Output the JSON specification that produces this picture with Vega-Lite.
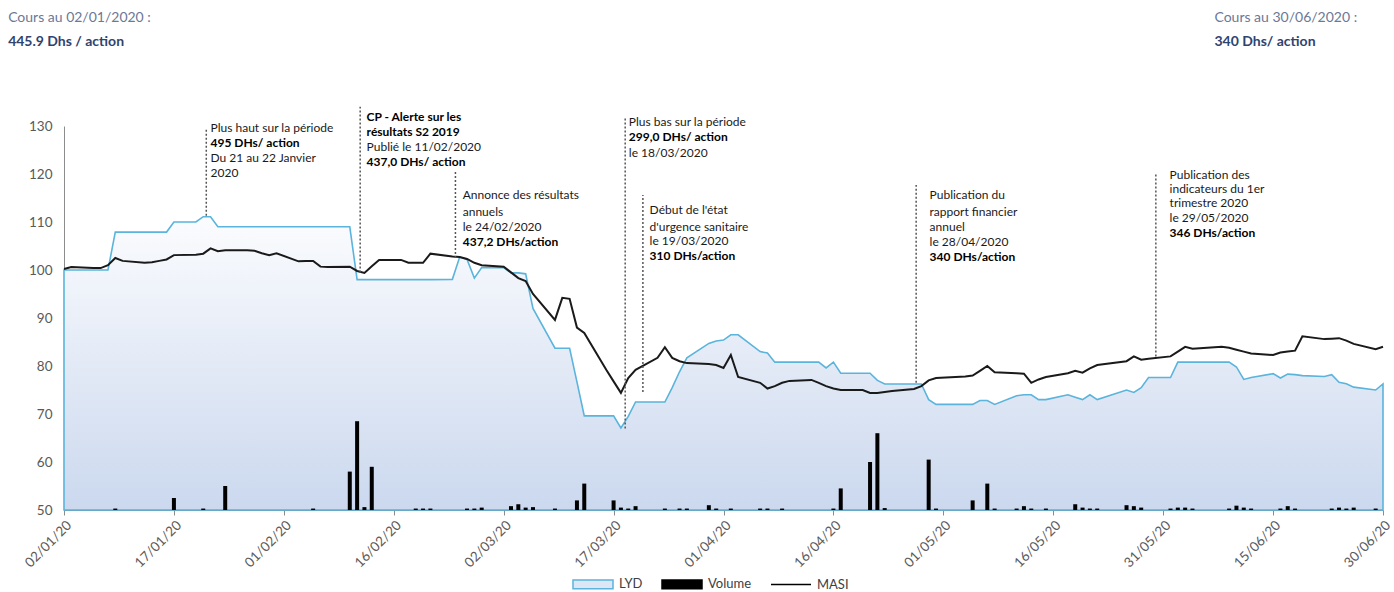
{
  "$schema": "https://vega.github.io/schema/vega-lite/v6.json",
  "autosize": "none",
  "width": 1319,
  "height": 384,
  "padding": {"left": 64, "top": 126, "right": 11, "bottom": 82},
  "background": "#ffffff",
  "config": {
    "view": {"stroke": null},
    "font": "Lato",
    "axis": {"labelFont": "Lato", "labelFontSize": 13.5, "labelColor": "#595959", "domainColor": "#8c8c8c", "tickColor": "#8c8c8c", "grid": false, "title": null},
    "legend": {"labelFont": "Lato", "labelFontSize": 13, "labelColor": "#404040"}
  },
  "datasets": {
    "lyd": [
      {"d":"2020-01-02","v":100},{"d":"2020-01-03","v":100},{"d":"2020-01-06","v":100},{"d":"2020-01-07","v":100},{"d":"2020-01-08","v":100},
      {"d":"2020-01-09","v":107.9},{"d":"2020-01-10","v":107.9},{"d":"2020-01-13","v":107.9},{"d":"2020-01-14","v":107.9},{"d":"2020-01-15","v":107.9},{"d":"2020-01-16","v":107.9},
      {"d":"2020-01-17","v":110},{"d":"2020-01-20","v":110},{"d":"2020-01-21","v":111.1},{"d":"2020-01-22","v":111.1},{"d":"2020-01-23","v":109},
      {"d":"2020-01-24","v":109},{"d":"2020-01-27","v":109},{"d":"2020-01-28","v":109},{"d":"2020-01-29","v":109},{"d":"2020-01-30","v":109},{"d":"2020-01-31","v":109},
      {"d":"2020-02-03","v":109},{"d":"2020-02-04","v":109},{"d":"2020-02-05","v":109},{"d":"2020-02-06","v":109},{"d":"2020-02-07","v":109},{"d":"2020-02-10","v":109},
      {"d":"2020-02-11","v":98},{"d":"2020-02-12","v":98},{"d":"2020-02-13","v":98},{"d":"2020-02-14","v":98},{"d":"2020-02-17","v":98},{"d":"2020-02-18","v":98},
      {"d":"2020-02-19","v":98},{"d":"2020-02-20","v":98},{"d":"2020-02-21","v":98},{"d":"2020-02-24","v":98.05},{"d":"2020-02-25","v":102.7},{"d":"2020-02-26","v":102.2},
      {"d":"2020-02-27","v":98.3},{"d":"2020-02-28","v":100.5},{"d":"2020-03-02","v":100.5},{"d":"2020-03-03","v":99.4},{"d":"2020-03-04","v":99.4},{"d":"2020-03-05","v":99.2},
      {"d":"2020-03-06","v":92},{"d":"2020-03-09","v":83.7},{"d":"2020-03-10","v":83.7},{"d":"2020-03-11","v":83.7},{"d":"2020-03-12","v":76.7},{"d":"2020-03-13","v":69.6},
      {"d":"2020-03-16","v":69.6},{"d":"2020-03-17","v":69.6},{"d":"2020-03-18","v":67.1},{"d":"2020-03-19","v":69.5},{"d":"2020-03-20","v":72.5},{"d":"2020-03-23","v":72.5},
      {"d":"2020-03-24","v":72.5},{"d":"2020-03-25","v":75.5},{"d":"2020-03-26","v":78.8},{"d":"2020-03-27","v":81.7},{"d":"2020-03-30","v":84.7},{"d":"2020-03-31","v":85.2},
      {"d":"2020-04-01","v":85.4},{"d":"2020-04-02","v":86.5},{"d":"2020-04-03","v":86.5},{"d":"2020-04-06","v":83},{"d":"2020-04-07","v":82.7},{"d":"2020-04-08","v":80.8},
      {"d":"2020-04-09","v":80.8},{"d":"2020-04-10","v":80.8},{"d":"2020-04-13","v":80.8},{"d":"2020-04-14","v":80.8},{"d":"2020-04-15","v":79.6},{"d":"2020-04-16","v":80.8},
      {"d":"2020-04-17","v":78.5},{"d":"2020-04-20","v":78.5},{"d":"2020-04-21","v":78.5},{"d":"2020-04-22","v":77},{"d":"2020-04-23","v":76.25},{"d":"2020-04-24","v":76.25},
      {"d":"2020-04-27","v":76.25},{"d":"2020-04-28","v":76.25},{"d":"2020-04-29","v":73},{"d":"2020-04-30","v":72},{"d":"2020-05-04","v":72},{"d":"2020-05-05","v":72},
      {"d":"2020-05-06","v":72.8},{"d":"2020-05-07","v":72.8},{"d":"2020-05-08","v":72},{"d":"2020-05-11","v":73.8},{"d":"2020-05-12","v":74},{"d":"2020-05-13","v":74},
      {"d":"2020-05-14","v":73},{"d":"2020-05-15","v":73},{"d":"2020-05-18","v":74},{"d":"2020-05-19","v":73.5},{"d":"2020-05-20","v":73},{"d":"2020-05-21","v":74},
      {"d":"2020-05-22","v":73},{"d":"2020-05-26","v":75},{"d":"2020-05-27","v":74.5},{"d":"2020-05-28","v":75.5},{"d":"2020-05-29","v":77.6},{"d":"2020-06-01","v":77.6},
      {"d":"2020-06-02","v":80.8},{"d":"2020-06-03","v":80.8},{"d":"2020-06-04","v":80.8},{"d":"2020-06-05","v":80.8},{"d":"2020-06-08","v":80.8},{"d":"2020-06-09","v":80.8},
      {"d":"2020-06-10","v":79.8},{"d":"2020-06-11","v":77.2},{"d":"2020-06-12","v":77.6},{"d":"2020-06-15","v":78.4},{"d":"2020-06-16","v":77.5},{"d":"2020-06-17","v":78.3},
      {"d":"2020-06-18","v":78.2},{"d":"2020-06-19","v":78},{"d":"2020-06-22","v":77.8},{"d":"2020-06-23","v":78.2},{"d":"2020-06-24","v":76.6},{"d":"2020-06-25","v":76.3},
      {"d":"2020-06-26","v":75.6},{"d":"2020-06-29","v":75},{"d":"2020-06-30","v":76.25}
    ],
    "masi": [
      {"d":"2020-01-02","v":100.2},{"d":"2020-01-03","v":100.6},{"d":"2020-01-06","v":100.4},{"d":"2020-01-07","v":100.4},{"d":"2020-01-08","v":101},
      {"d":"2020-01-09","v":102.5},{"d":"2020-01-10","v":101.9},{"d":"2020-01-13","v":101.5},{"d":"2020-01-14","v":101.6},{"d":"2020-01-15","v":101.9},{"d":"2020-01-16","v":102.2},
      {"d":"2020-01-17","v":103.1},{"d":"2020-01-20","v":103.2},{"d":"2020-01-21","v":103.4},{"d":"2020-01-22","v":104.5},{"d":"2020-01-23","v":103.9},{"d":"2020-01-24","v":104.1},
      {"d":"2020-01-27","v":104.1},{"d":"2020-01-28","v":104},{"d":"2020-01-29","v":103.5},{"d":"2020-01-30","v":103.1},{"d":"2020-01-31","v":103.5},
      {"d":"2020-02-03","v":101.8},{"d":"2020-02-04","v":101.9},{"d":"2020-02-05","v":101.9},{"d":"2020-02-06","v":100.7},{"d":"2020-02-07","v":100.6},{"d":"2020-02-10","v":100.7},
      {"d":"2020-02-11","v":99.8},{"d":"2020-02-12","v":99.4},{"d":"2020-02-13","v":100.8},{"d":"2020-02-14","v":102.1},{"d":"2020-02-17","v":102.1},{"d":"2020-02-18","v":101.5},
      {"d":"2020-02-19","v":101.5},{"d":"2020-02-20","v":101.5},{"d":"2020-02-21","v":103.4},{"d":"2020-02-24","v":102.8},{"d":"2020-02-25","v":102.7},{"d":"2020-02-26","v":102.3},
      {"d":"2020-02-27","v":101.5},{"d":"2020-02-28","v":101},{"d":"2020-03-02","v":100.7},{"d":"2020-03-03","v":99.5},{"d":"2020-03-04","v":98.3},{"d":"2020-03-05","v":97.7},
      {"d":"2020-03-06","v":95},{"d":"2020-03-09","v":89.6},{"d":"2020-03-10","v":94.2},{"d":"2020-03-11","v":94},{"d":"2020-03-12","v":88},{"d":"2020-03-13","v":86.9},
      {"d":"2020-03-16","v":79.2},{"d":"2020-03-17","v":76.8},{"d":"2020-03-18","v":74.4},{"d":"2020-03-19","v":77.5},{"d":"2020-03-20","v":79.2},{"d":"2020-03-23","v":81.7},
      {"d":"2020-03-24","v":83.9},{"d":"2020-03-25","v":81.7},{"d":"2020-03-26","v":81},{"d":"2020-03-27","v":80.6},{"d":"2020-03-30","v":80.4},{"d":"2020-03-31","v":80.2},
      {"d":"2020-04-01","v":79.6},{"d":"2020-04-02","v":82.3},{"d":"2020-04-03","v":77.7},{"d":"2020-04-06","v":76.5},{"d":"2020-04-07","v":75.3},{"d":"2020-04-08","v":75.8},
      {"d":"2020-04-09","v":76.5},{"d":"2020-04-10","v":76.9},{"d":"2020-04-13","v":77.1},{"d":"2020-04-14","v":76.5},{"d":"2020-04-15","v":75.8},{"d":"2020-04-16","v":75.3},
      {"d":"2020-04-17","v":75},{"d":"2020-04-20","v":75},{"d":"2020-04-21","v":74.4},{"d":"2020-04-22","v":74.4},{"d":"2020-04-23","v":74.6},{"d":"2020-04-24","v":74.8},
      {"d":"2020-04-27","v":75.2},{"d":"2020-04-28","v":75.8},{"d":"2020-04-29","v":77},{"d":"2020-04-30","v":77.5},{"d":"2020-05-04","v":77.8},{"d":"2020-05-05","v":78},
      {"d":"2020-05-06","v":79},{"d":"2020-05-07","v":80},{"d":"2020-05-08","v":78.7},{"d":"2020-05-11","v":78.5},{"d":"2020-05-12","v":78.4},{"d":"2020-05-13","v":76.5},
      {"d":"2020-05-14","v":77.2},{"d":"2020-05-15","v":77.7},{"d":"2020-05-18","v":78.5},{"d":"2020-05-19","v":79},{"d":"2020-05-20","v":78.6},{"d":"2020-05-21","v":79.5},
      {"d":"2020-05-22","v":80.2},{"d":"2020-05-26","v":81},{"d":"2020-05-27","v":82},{"d":"2020-05-28","v":81.3},{"d":"2020-05-29","v":81.5},{"d":"2020-06-01","v":82},
      {"d":"2020-06-02","v":83},{"d":"2020-06-03","v":84},{"d":"2020-06-04","v":83.6},{"d":"2020-06-05","v":83.7},{"d":"2020-06-08","v":84},{"d":"2020-06-09","v":83.8},
      {"d":"2020-06-10","v":83.4},{"d":"2020-06-11","v":83},{"d":"2020-06-12","v":82.6},{"d":"2020-06-15","v":82.3},{"d":"2020-06-16","v":82.8},{"d":"2020-06-17","v":83},
      {"d":"2020-06-18","v":83.2},{"d":"2020-06-19","v":86.2},{"d":"2020-06-22","v":85.6},{"d":"2020-06-23","v":85.7},{"d":"2020-06-24","v":85.8},{"d":"2020-06-25","v":85.3},
      {"d":"2020-06-26","v":84.6},{"d":"2020-06-29","v":83.5},{"d":"2020-06-30","v":84}
    ],
    "vol": [
      {"d":"2020-01-09","k":0.3},{"d":"2020-01-17","k":2.5},{"d":"2020-01-21","k":0.3},{"d":"2020-01-24","k":5},{"d":"2020-02-05","k":0.3},
      {"d":"2020-02-10","k":8},{"d":"2020-02-11","k":18.5},{"d":"2020-02-12","k":0.6},{"d":"2020-02-13","k":9},{"d":"2020-02-19","k":0.3},
      {"d":"2020-02-20","k":0.3},{"d":"2020-02-21","k":0.3},{"d":"2020-02-26","k":0.3},{"d":"2020-02-27","k":0.3},{"d":"2020-02-28","k":0.5},
      {"d":"2020-03-03","k":0.8},{"d":"2020-03-04","k":1.2},{"d":"2020-03-05","k":0.5},{"d":"2020-03-06","k":0.6},{"d":"2020-03-09","k":0.3},
      {"d":"2020-03-12","k":2},{"d":"2020-03-13","k":5.5},{"d":"2020-03-17","k":2},{"d":"2020-03-18","k":0.5},{"d":"2020-03-19","k":0.3},
      {"d":"2020-03-20","k":0.8},{"d":"2020-03-24","k":0.3},{"d":"2020-03-26","k":0.3},{"d":"2020-03-27","k":0.3},{"d":"2020-03-30","k":1},
      {"d":"2020-03-31","k":0.3},{"d":"2020-04-02","k":0.3},{"d":"2020-04-06","k":0.3},{"d":"2020-04-07","k":0.3},{"d":"2020-04-09","k":0.3},
      {"d":"2020-04-16","k":0.3},{"d":"2020-04-17","k":4.5},{"d":"2020-04-21","k":10},{"d":"2020-04-22","k":16},{"d":"2020-04-23","k":0.4},
      {"d":"2020-04-29","k":10.5},{"d":"2020-04-30","k":0.3},{"d":"2020-05-05","k":2},{"d":"2020-05-07","k":5.5},{"d":"2020-05-08","k":0.3},
      {"d":"2020-05-11","k":0.3},{"d":"2020-05-12","k":0.8},{"d":"2020-05-13","k":0.3},{"d":"2020-05-15","k":0.3},{"d":"2020-05-19","k":1.2},
      {"d":"2020-05-20","k":0.5},{"d":"2020-05-21","k":0.3},{"d":"2020-05-22","k":0.3},{"d":"2020-05-26","k":1},{"d":"2020-05-27","k":0.8},
      {"d":"2020-05-28","k":0.5},{"d":"2020-06-01","k":0.3},{"d":"2020-06-02","k":0.5},{"d":"2020-06-03","k":0.5},{"d":"2020-06-04","k":0.3},
      {"d":"2020-06-09","k":0.3},{"d":"2020-06-10","k":0.9},{"d":"2020-06-11","k":0.5},{"d":"2020-06-12","k":0.3},{"d":"2020-06-16","k":0.3},
      {"d":"2020-06-17","k":0.8},{"d":"2020-06-18","k":0.3},{"d":"2020-06-23","k":0.3},{"d":"2020-06-24","k":0.5},{"d":"2020-06-25","k":0.3},
      {"d":"2020-06-26","k":0.5},{"d":"2020-06-29","k":0.3}
    ],
    "rules": [
      {"d":"2020-01-21T10:00:00Z","v1":111.3,"v2":129.2},
      {"d":"2020-02-11T10:00:00Z","v1":99.5,"v2":134},
      {"d":"2020-02-24T10:00:00Z","v1":102.5,"v2":120.8},
      {"d":"2020-03-18T14:00:00Z","v1":67,"v2":131.9},
      {"d":"2020-03-21T00:00:00Z","v1":74.6,"v2":115.6},
      {"d":"2020-04-27T07:00:00Z","v1":76.5,"v2":117.7},
      {"d":"2020-05-30T00:00:00Z","v1":82,"v2":120.2}
    ],
    "notes": [
      {"d":"2020-01-22T00:00:00Z","v":129.6,"t":"Plus haut sur la période","b":0},
      {"d":"2020-01-22T00:00:00Z","v":126.5,"t":"495 DHs/ action","b":1},
      {"d":"2020-01-22T00:00:00Z","v":123.3,"t":"Du 21 au 22 Janvier","b":0},
      {"d":"2020-01-22T00:00:00Z","v":120.2,"t":"2020","b":0},
      {"d":"2020-02-12T07:00:00Z","v":131.9,"t":"CP - Alerte sur les","b":1},
      {"d":"2020-02-12T07:00:00Z","v":128.75,"t":"résultats S2 2019","b":1},
      {"d":"2020-02-12T07:00:00Z","v":125.6,"t":"Publié le 11/02/2020","b":0},
      {"d":"2020-02-12T07:00:00Z","v":122.5,"t":"437,0 DHs/ action","b":1},
      {"d":"2020-02-25T10:00:00Z","v":115.6,"t":"Annonce des résultats","b":0},
      {"d":"2020-02-25T10:00:00Z","v":112.1,"t":"annuels","b":0},
      {"d":"2020-02-25T10:00:00Z","v":109,"t":"le 24/02/2020","b":0},
      {"d":"2020-02-25T10:00:00Z","v":105.8,"t":"437,2 DHs/action","b":1},
      {"d":"2020-03-19T02:00:00Z","v":130.8,"t":"Plus bas sur la période","b":0},
      {"d":"2020-03-19T02:00:00Z","v":127.7,"t":"299,0 DHs/ action","b":1},
      {"d":"2020-03-19T02:00:00Z","v":124.4,"t":"le 18/03/2020","b":0},
      {"d":"2020-03-21T22:00:00Z","v":112.5,"t":"Début de l'état","b":0},
      {"d":"2020-03-21T22:00:00Z","v":109,"t":"d'urgence sanitaire","b":0},
      {"d":"2020-03-21T22:00:00Z","v":106,"t":"le 19/03/2020","b":0},
      {"d":"2020-03-21T22:00:00Z","v":102.9,"t":"310 DHs/action","b":1},
      {"d":"2020-04-29T03:00:00Z","v":115.6,"t":"Publication du","b":0},
      {"d":"2020-04-29T03:00:00Z","v":112.1,"t":"rapport financier","b":0},
      {"d":"2020-04-29T03:00:00Z","v":109,"t":"annuel","b":0},
      {"d":"2020-04-29T03:00:00Z","v":105.8,"t":"le 28/04/2020","b":0},
      {"d":"2020-04-29T03:00:00Z","v":102.7,"t":"340 DHs/action","b":1},
      {"d":"2020-05-31T21:00:00Z","v":119.8,"t":"Publication des","b":0},
      {"d":"2020-05-31T21:00:00Z","v":116.9,"t":"indicateurs du 1er","b":0},
      {"d":"2020-05-31T21:00:00Z","v":114,"t":"trimestre 2020","b":0},
      {"d":"2020-05-31T21:00:00Z","v":110.8,"t":"le 29/05/2020","b":0},
      {"d":"2020-05-31T21:00:00Z","v":107.7,"t":"346 DHs/action","b":1}
    ],
    "hdr": [
      {"d":"2019-12-25T09:00:00Z","v":152.5,"t":"Cours au 02/01/2020 :","b":0},
      {"d":"2019-12-25T09:00:00Z","v":147.5,"t":"445.9 Dhs / action","b":1},
      {"d":"2020-06-07T00:00:00Z","v":152.5,"t":"Cours au 30/06/2020 :","b":0},
      {"d":"2020-06-07T00:00:00Z","v":147.5,"t":"340 Dhs/ action","b":1}
    ]
  },
  "layer": [
    {
      "layer": [
        {
          "data": {"name": "lyd"},
          "mark": {"type": "area", "stroke": "#5ab4dc", "strokeWidth": 1.6, "fill": {"gradient": "linear", "x1": 0, "y1": 0, "x2": 0, "y2": 1, "stops": [{"offset": 0, "color": "#fbfcfe"}, {"offset": 1, "color": "#cbd8ee"}]}},
          "encoding": {
            "x": {"field": "d", "type": "temporal", "scale": {"type": "utc", "padding": 0, "domain": [{"year": 2020, "month": 1, "date": 2, "utc": true}, {"year": 2020, "month": 6, "date": 30, "utc": true}]},
              "axis": {"format": "%d/%m/%y", "labelAngle": -45, "tickSize": 5, "labelPadding": 3,
                "values": [{"year":2020,"month":1,"date":2,"utc":true},{"year":2020,"month":1,"date":17,"utc":true},{"year":2020,"month":2,"date":1,"utc":true},{"year":2020,"month":2,"date":16,"utc":true},{"year":2020,"month":3,"date":2,"utc":true},{"year":2020,"month":3,"date":17,"utc":true},{"year":2020,"month":4,"date":1,"utc":true},{"year":2020,"month":4,"date":16,"utc":true},{"year":2020,"month":5,"date":1,"utc":true},{"year":2020,"month":5,"date":16,"utc":true},{"year":2020,"month":5,"date":31,"utc":true},{"year":2020,"month":6,"date":15,"utc":true},{"year":2020,"month":6,"date":30,"utc":true}]}},
            "y": {"field": "v", "type": "quantitative", "scale": {"domain": [50, 130], "nice": false, "zero": false}, "axis": {"values": [50,60,70,80,90,100,110,120,130], "ticks": false, "labelPadding": 12}},
            "y2": {"datum": 50}
          }
        },
        {
          "data": {"name": "masi"},
          "mark": {"type": "line", "stroke": "#1a1a1a", "strokeWidth": 2},
          "encoding": {
            "x": {"field": "d", "type": "temporal"},
            "y": {"field": "v", "type": "quantitative"}
          }
        },
        {
          "data": {"name": "lyd"},
          "mark": {"type": "point", "size": 0, "opacity": 1, "filled": true, "strokeWidth": 1.8},
          "encoding": {
            "x": {"field": "d", "type": "temporal"},
            "y": {"field": "v", "type": "quantitative"},
            "fill": {"datum": "LYD", "scale": {"domain": ["LYD", "Volume", "MASI"], "range": ["#dde6f5", "#000000", "transparent"]},
              "legend": {"orient": "none", "legendX": 508, "legendY": 437, "direction": "horizontal", "title": null, "columnPadding": 16, "labelOffset": 5, "symbolSize": 1600}},
            "stroke": {"datum": "LYD", "scale": {"domain": ["LYD", "Volume", "MASI"], "range": ["#5ab4dc", "#000000", "#000000"]},
              "legend": {"orient": "none", "legendX": 508, "legendY": 437, "direction": "horizontal", "title": null, "columnPadding": 16, "labelOffset": 5, "symbolSize": 1600}},
            "shape": {"datum": "LYD", "scale": {"domain": ["LYD", "Volume", "MASI"], "range": ["M-1,-0.22H1V0.22H-1Z", "M-1,-0.22H1V0.22H-1Z", "M-1,0H1"]},
              "legend": {"orient": "none", "legendX": 508, "legendY": 437, "direction": "horizontal", "title": null, "columnPadding": 16, "labelOffset": 5, "symbolSize": 1600}}
          }
        },
        {
          "data": {"name": "rules"},
          "mark": {"type": "rule", "color": "#555555", "strokeWidth": 1.5, "strokeDash": [2, 2]},
          "encoding": {
            "x": {"field": "d", "type": "temporal"},
            "y": {"field": "v1", "type": "quantitative"},
            "y2": {"field": "v2"}
          }
        },
        {
          "data": {"name": "notes"},
          "transform": [{"filter": "datum.b == 0"}],
          "mark": {"type": "text", "align": "left", "baseline": "middle", "fontSize": 12, "color": "#1a1a1a", "font": "Lato"},
          "encoding": {
            "x": {"field": "d", "type": "temporal"},
            "y": {"field": "v", "type": "quantitative"},
            "text": {"field": "t"}
          }
        },
        {
          "data": {"name": "notes"},
          "transform": [{"filter": "datum.b == 1"}],
          "mark": {"type": "text", "align": "left", "baseline": "middle", "fontSize": 12, "fontWeight": "bold", "color": "#000000", "font": "Lato"},
          "encoding": {
            "x": {"field": "d", "type": "temporal"},
            "y": {"field": "v", "type": "quantitative"},
            "text": {"field": "t"}
          }
        },
        {
          "data": {"name": "hdr"},
          "transform": [{"filter": "datum.b == 0"}],
          "mark": {"type": "text", "align": "left", "baseline": "middle", "fontSize": 14, "color": "#6b7896", "font": "Lato"},
          "encoding": {
            "x": {"field": "d", "type": "temporal"},
            "y": {"field": "v", "type": "quantitative"},
            "text": {"field": "t"}
          }
        },
        {
          "data": {"name": "hdr"},
          "transform": [{"filter": "datum.b == 1"}],
          "mark": {"type": "text", "align": "left", "baseline": "middle", "fontSize": 14, "fontWeight": "bold", "color": "#2f4370", "font": "Lato"},
          "encoding": {
            "x": {"field": "d", "type": "temporal"},
            "y": {"field": "v", "type": "quantitative"},
            "text": {"field": "t"}
          }
        }
      ]
    },
    {
      "data": {"name": "vol"},
      "mark": {"type": "bar", "fill": "#000000", "size": 4},
      "encoding": {
        "x": {"field": "d", "type": "temporal"},
        "y": {"field": "k", "type": "quantitative", "scale": {"domain": [0, 80]}, "axis": null}
      }
    }
  ],
  "resolve": {"scale": {"y": "independent"}}
}
